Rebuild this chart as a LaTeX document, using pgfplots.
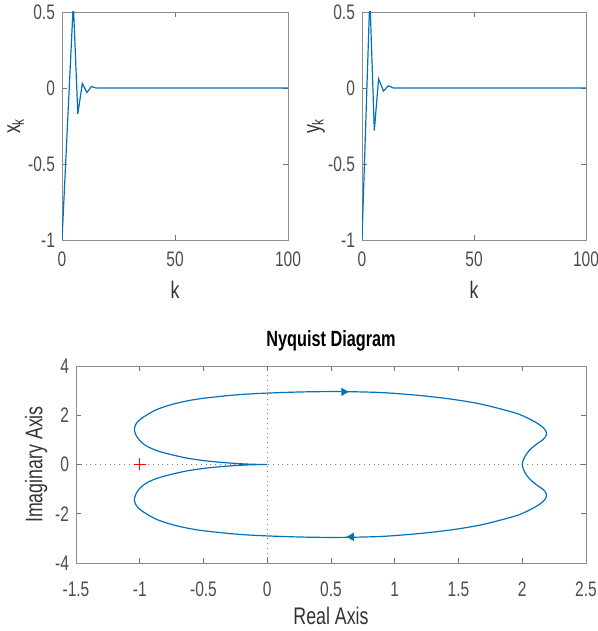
\documentclass[border=0pt]{standalone}
\usepackage{fontspec}
\setmainfont{Liberation Sans}[FakeStretch=0.74]
\usepackage{pgfplots}
\pgfplotsset{compat=1.18}

\definecolor{mblue}{rgb}{0,0.447,0.741}

\pgfplotsset{
  mstyle/.style={
    scale only axis,
    axis line style={black!45},
    tick style={black!55, thin},
    major tick length=2.5pt,
    tick label style={font=\fontsize{10.5}{11}\selectfont, text=black!70},
    xticklabel style={yshift=-2.5pt},
    label style={font=\fontsize{12}{13}\selectfont, text=black!80},
    /pgf/number format/assume math mode=true,
  },
}

\begin{document}
\begin{tikzpicture}

% x_k response
\begin{axis}[mstyle,
    at={(31pt,195.5pt)}, anchor=south west,
    width=113pt, height=114pt,
    xmin=0, xmax=100, ymin=-1, ymax=0.5,
    xtick={0,50,100}, ytick={-1,-0.5,0,0.5},
    xlabel={k}, ylabel={x\textsubscript{k}},
    ylabel style={at={(axis description cs:-0.205,0.5)}, anchor=center},
    xlabel style={at={(axis description cs:0.5,-0.22)}, anchor=center},
]
\addplot[mblue, line width=0.6pt] coordinates {
    (0,-1) (5,0.56) (7,-0.17) (9,0.03) (11,-0.03) (13,0.01) (15,0) (100,0)
};
\end{axis}

% y_k response
\begin{axis}[mstyle,
    at={(181pt,195.5pt)}, anchor=south west,
    width=112pt, height=114pt,
    xmin=0, xmax=100, ymin=-1, ymax=0.5,
    xtick={0,50,100}, ytick={-1,-0.5,0,0.5},
    xlabel={k}, ylabel={y\textsubscript{k}},
    ylabel style={at={(axis description cs:-0.205,0.5)}, anchor=center},
    xlabel style={at={(axis description cs:0.5,-0.22)}, anchor=center},
]
\addplot[mblue, line width=0.6pt] coordinates {
    (0,-1) (3.5,0.6) (5.5,-0.28) (7.4,0.06) (9.6,-0.02) (11.8,0.015) (14,0) (100,0)
};
\end{axis}

% Nyquist
\begin{axis}[mstyle,
    at={(38pt,34pt)}, anchor=south west,
    width=255pt, height=98.5pt,
    xmin=-1.5, xmax=2.5, ymin=-4, ymax=4,
    xtick={-1.5,-1,...,2.5}, ytick={-4,-2,0,2,4},
    xticklabel style={yshift=-3.5pt},
    xlabel={Real Axis}, ylabel={Imaginary Axis},
    ylabel style={at={(axis description cs:-0.078,0.5)}, anchor=center},
    xlabel style={at={(axis description cs:0.5,-0.27)}, anchor=center},
    title={Nyquist Diagram},
    title style={font=\fontsize{11}{12}\selectfont\bfseries, yshift=-2pt},
]
\addplot[black!50, dotted, line width=0.4pt] coordinates {(-1.5,0) (2.5,0)};
\addplot[black!50, dotted, line width=0.4pt] coordinates {(0,-4) (0,4)};
\addplot[mblue, line width=0.6pt, smooth, tension=0.5] coordinates {
    (0,0) (-0.12,0.01) (-0.24,0.04) (-0.37,0.09) (-0.5,0.16) (-0.63,0.26)
    (-0.76,0.41) (-0.87,0.57) (-0.95,0.76) (-1.0,0.97) (-1.03,1.2) (-1.042,1.42)
    (-1.03,1.64) (-0.99,1.86) (-0.88,2.2) (-0.76,2.42) (-0.63,2.58) (-0.5,2.69)
    (-0.24,2.83) (0,2.9) (0.3,2.95) (0.58,2.96) (0.9,2.92) (1.2,2.80) (1.45,2.65)
    (1.65,2.48) (1.82,2.27) (1.98,2.03) (2.11,1.70) (2.175,1.44) (2.19,1.22)
    (2.165,1.02) (2.11,0.82) (2.055,0.57) (2.018,0.3) (2.0,0)
    (2.018,-0.3) (2.055,-0.57) (2.11,-0.82) (2.165,-1.02) (2.19,-1.22)
    (2.175,-1.44) (2.11,-1.70) (1.98,-2.03) (1.82,-2.27) (1.65,-2.48) (1.45,-2.65)
    (1.2,-2.80) (0.9,-2.92) (0.58,-2.96) (0.3,-2.95) (0,-2.9) (-0.24,-2.83)
    (-0.5,-2.69) (-0.63,-2.58) (-0.76,-2.42) (-0.88,-2.2) (-0.99,-1.86)
    (-1.03,-1.64) (-1.042,-1.42) (-1.03,-1.2) (-1.0,-0.97) (-0.95,-0.76)
    (-0.87,-0.57) (-0.76,-0.41) (-0.63,-0.26) (-0.5,-0.16) (-0.37,-0.09)
    (-0.24,-0.04) (-0.12,-0.01) (0,0)
};
\addplot[mblue, only marks, mark=triangle*, mark size=2pt, mark options={rotate=-90}]
    coordinates {(0.6,2.95)};
\addplot[mblue, only marks, mark=triangle*, mark size=2pt, mark options={rotate=90}]
    coordinates {(0.66,-2.94)};
\addplot[red, only marks, mark=+, mark size=3pt, line width=0.4pt]
    coordinates {(-1,0)};
\end{axis}

\pgfresetboundingbox
\path (0,0) rectangle (299pt,315.5pt);
\end{tikzpicture}
\end{document}
